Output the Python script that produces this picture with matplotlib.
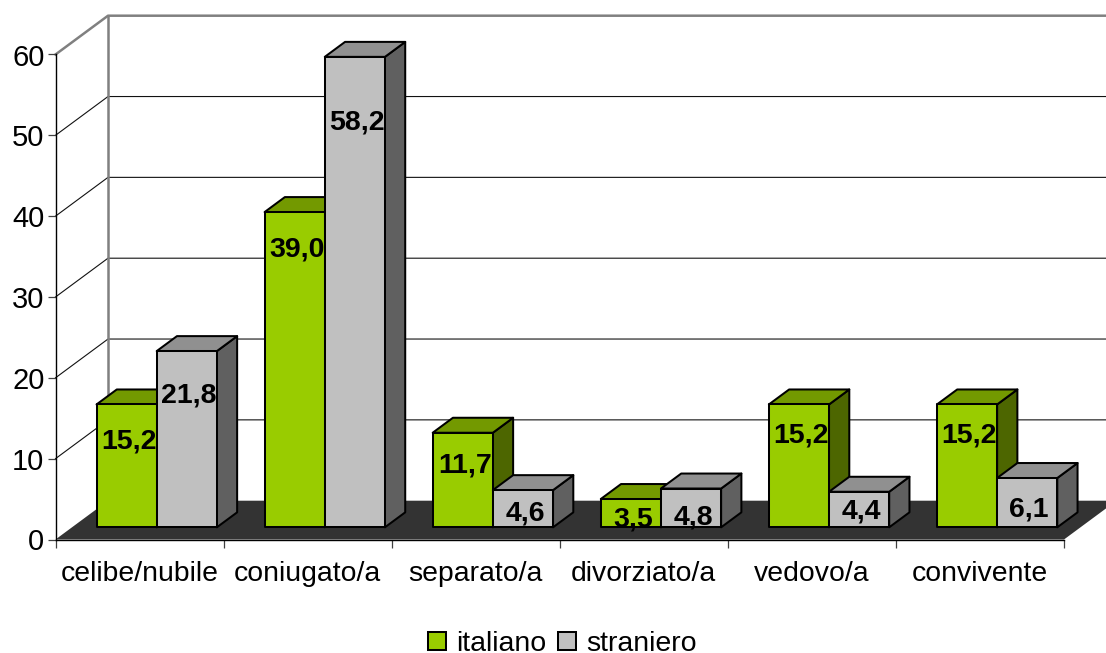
"""
Excel style pseudo 3D bar chart: marital status, italiano vs straniero.
"""
import matplotlib
matplotlib.use('Agg')
import matplotlib.pyplot as plt
from matplotlib.patches import Polygon, Patch

plt.rcParams['font.family'] = ['Liberation Sans', 'DejaVu Sans']

# ---- Data ----
categories = ['celibe/nubile', 'coniugato/a', 'separato/a', 'divorziato/a', 'vedovo/a', 'convivente']
italiano = [15.2, 39.0, 11.7, 3.5, 15.2, 15.2]
straniero = [21.8, 58.2, 4.6, 4.8, 4.4, 6.1]
y_ticks = [0, 10, 20, 30, 40, 50, 60]

# ---- Layout constants ----
W, H = 1106, 653
AX_L, AX_R, AX_B, AX_T = 55.5, 1064, 539.5, 54.5  # pixels
DX = 52.5 / 168.1   # depth shift of the back wall, category units
DY = 38.8 / 8.083   # same, value units
D0, D1 = 0.314, 0.70  # front and back of the bars, fraction of depth
BAR_W = 0.358
BAR_OFF = 0.146

# label drop below the bar top, pixels (the original labels are not regular)
drop_it = [34, 34, 30, 17, 28, 28]
drop_st = [41, 63, 20, 26, 17, 28]

COL_IT = ('#99CC00', '#739900', '#4D6600')  # front, top, side
COL_ST = ('#C0C0C0', '#909090', '#606060')


def proj(x, v, d):
    return (x + d * DX, v + d * DY)


def draw_bar(ax, x, v, cols):
    front = [proj(x, 0, D0), proj(x + BAR_W, 0, D0), proj(x + BAR_W, v, D0), proj(x, v, D0)]
    top = [proj(x, v, D0), proj(x + BAR_W, v, D0), proj(x + BAR_W, v, D1), proj(x, v, D1)]
    side = [proj(x + BAR_W, 0, D0), proj(x + BAR_W, 0, D1), proj(x + BAR_W, v, D1), proj(x + BAR_W, v, D0)]
    for pts, c in zip((side, top, front), (cols[2], cols[1], cols[0])):
        ax.add_patch(Polygon(pts, closed=True, facecolor=c, edgecolor='black',
                             linewidth=1.45, joinstyle='round', clip_on=False, zorder=3))


def draw_label(ax, x, v, drop, text):
    ax.annotate(text, xy=proj(x + BAR_W / 2, v, D0), xytext=(2 * 0.72, -drop * 0.72),
                textcoords='offset points', ha='center', va='center_baseline',
                fontsize=20.5, fontweight='bold', color='black', zorder=5,
                annotation_clip=False)


# ---- Figure ----
fig = plt.figure(figsize=(W / 100, H / 100), dpi=100, facecolor='white')
ax = fig.add_axes([AX_L / W, (H - AX_B) / H, (AX_R - AX_L) / W, (AX_B - AX_T) / H])
ax.patch.set_visible(False)
n = len(categories)
ax.set_xlim(0, n)
ax.set_ylim(0, 60)

# Walls and floor
ax.add_patch(Polygon([proj(0, 0, 0), proj(n, 0, 0), proj(n, 0, 1), proj(0, 0, 1)], closed=True,
                     facecolor='#333333', edgecolor='none', clip_on=False, zorder=1))
for v in y_ticks[1:]:
    c = '#808080' if v == y_ticks[-1] else '#111111'
    lw = 1.8 if v == y_ticks[-1] else 0.8
    ax.plot([0, DX, n + DX], [v, v + DY, v + DY], color=c, linewidth=lw, clip_on=False, zorder=1)
ax.plot([DX, DX], [DY, 60 + DY], color='#808080', linewidth=1.8, clip_on=False, zorder=1)

# Bars, left to right, so each one covers the side of the previous
for i in range(n):
    x0 = i + BAR_OFF
    draw_bar(ax, x0, italiano[i], COL_IT)
    draw_bar(ax, x0 + BAR_W, straniero[i], COL_ST)
for i in range(n):
    x0 = i + BAR_OFF
    draw_label(ax, x0, italiano[i], drop_it[i], f'{italiano[i]:.1f}'.replace('.', ','))
    draw_label(ax, x0 + BAR_W, straniero[i], drop_st[i], f'{straniero[i]:.1f}'.replace('.', ','))

# Axes
for s in ('top', 'right'):
    ax.spines[s].set_visible(False)
for s in ('left', 'bottom'):
    ax.spines[s].set_linewidth(1.0)
    ax.spines[s].set_zorder(2)
ax.set_yticks(y_ticks)
ax.tick_params(axis='y', length=5.5, width=0.9, color='#404040', pad=2.5, labelsize=21)
ax.set_xticks(range(n + 1))
ax.set_xticklabels([])
ax.set_xticks([i + 0.5 for i in range(n)], minor=True)
ax.set_xticklabels(categories, minor=True)
ax.tick_params(axis='x', which='major', length=5.5, width=0.9, color='#404040')
ax.tick_params(axis='x', which='minor', length=0, pad=15.5, labelsize=20.4)

# Legend
handles = [Patch(facecolor=COL_IT[0], edgecolor='black', linewidth=1.45, label='italiano'),
           Patch(facecolor=COL_ST[0], edgecolor='black', linewidth=1.45, label='straniero')]
fig.legend(handles=handles, loc='lower center', bbox_to_anchor=(0.5086, -0.006), ncol=2, frameon=False,
           fontsize=20.5, handlelength=0.62, handleheight=0.62, handletextpad=0.37,
           columnspacing=0.4, borderpad=0, borderaxespad=0)

fig.savefig('out.png', dpi=100, facecolor='white')
